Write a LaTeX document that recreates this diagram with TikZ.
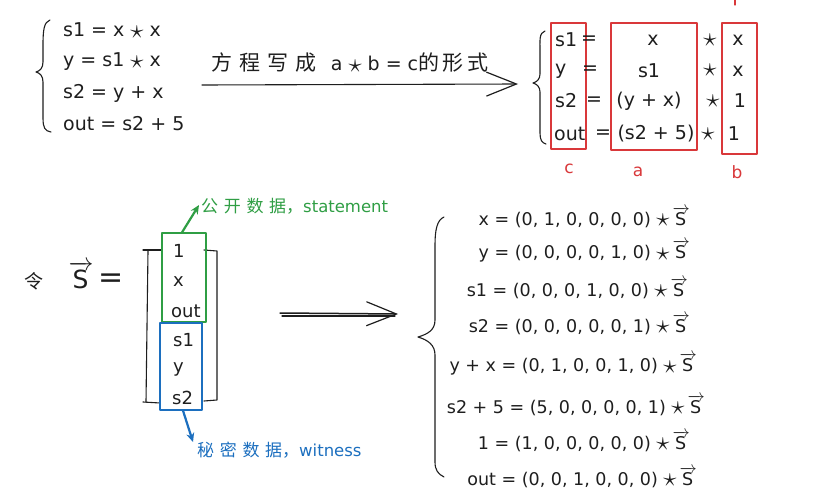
\documentclass[tikz,border=0pt]{standalone}
\usepackage{fontspec}
\setmainfont{DejaVu Sans}
\newfontfamily\cjk{Noto Sans CJK SC}
\usetikzlibrary{arrows.meta}
\definecolor{exred}{HTML}{D9383A}
\definecolor{exgreen}{HTML}{2F9E44}
\definecolor{exblue}{HTML}{1C6FBF}
\definecolor{ink}{HTML}{1E1E1E}
\newcommand\vecS{\ensuremath{\overrightarrow{\mbox{S\kern1pt}}}}
\newcommand\mystar{\ensuremath{\vcenter{\hbox{\scalebox{1.55}{$\star$}}}}}
\begin{document}
\begin{tikzpicture}[x=1pt,y=-1pt,line cap=round,line join=round,
  txt/.style={font=\fontsize{19}{22}\selectfont,inner sep=0pt,text=ink},
  rtxt/.style={font=\fontsize{17.5}{20}\selectfont,inner sep=0pt,text=ink},
  hand/.style={draw=ink,line width=1.1pt},
  redbox/.style={draw=exred,line width=1.2pt,inner sep=0pt},
  redlbl/.style={font=\fontsize{17}{19}\selectfont,text=exred,inner sep=0pt},
  gbox/.style={draw=exgreen,line width=1.2pt,inner sep=0pt},
  bbox/.style={draw=exblue,line width=1.2pt,inner sep=0pt},
  bigarrow/.style={hand,-{Straight Barb[length=30pt,width=24pt,line width=1.2pt]}}]
\useasboundingbox[fill=white] (0,0) rectangle (835,495);

% ---------- top-left system ----------
\draw[hand] (50,20) .. controls (44,22) and (43,30) .. (43,45)
  -- (43,62) .. controls (43,68) and (40,71) .. (36,72)
  .. controls (40,73) and (43,76) .. (43,82) -- (43,118)
  .. controls (43,128) and (45,131) .. (51,132);
\node[txt,anchor=west] (e1) at (63,31) {s1 = x \mystar{} x};
\node[txt,anchor=west] (e2) at (63,62) {y = s1 \mystar{} x};
\node[txt,anchor=west] (e3) at (63,93) {s2 = y + x};
\node[txt,anchor=west] (e4) at (63,124) {out = s2 + 5};

% ---------- top arrow ----------
\coordinate (a1s) at (202,85);
\coordinate (a1e) at (518,84);
\draw[bigarrow] (a1s) -- (a1e);
\node[inner sep=0pt,text=ink] (lab1) at (350,63)
  {{\cjk\fontsize{21}{23}\selectfont 方\,\,程\,\,写\,\,成}\hspace{14pt}{\fontsize{19}{21}\selectfont a \mystar{} b = c}{\cjk\fontsize{21}{23}\selectfont 的\,形\,式}};

% ---------- top-right system ----------
\draw[hand] (545,31) .. controls (539,33) and (540,40) .. (540,52)
  -- (540,74) .. controls (540,79) and (537,82) .. (533,83)
  .. controls (537,84) and (540,87) .. (540,92) -- (540,133)
  .. controls (540,140) and (542,143) .. (546,144);
\node[redbox,minimum width=35pt,minimum height=126pt] (cbox) at (568.5,86) {};
\node[redbox,minimum width=86pt,minimum height=127pt] (abox) at (654,86.5) {};
\node[redbox,minimum width=35pt,minimum height=131pt] (bbx) at (739.5,88.5) {};
\draw[exred,line width=1.2pt] (735,0) -- (735,5);

\node[txt,anchor=west] (c1) at (555,40) {s1};
\node[txt,anchor=west] (c2) at (555,71) {y};
\node[txt,anchor=west] (c3) at (555,101) {s2};
\node[txt,anchor=west] (c4) at (554,134) {out};
\node[txt] (q1) at (589,40) {=};
\node[txt] (q2) at (590,70) {=};
\node[txt] (q3) at (594,101) {=};
\node[txt] (q4) at (603,134) {=};
\node[txt] (a1) at (653,40) {x};
\node[txt] (a2) at (649,71) {s1};
\node[txt] (a3) at (649,101) {(y + x)};
\node[txt] (a4) at (656,134) {(s2 + 5)};
\node[txt] (m1) at (710,40) {\mystar};
\node[txt] (m2) at (710,70) {\mystar};
\node[txt] (m3) at (713,101) {\mystar};
\node[txt] (m4) at (708,134) {\mystar};
\node[txt] (b1) at (738,40) {x};
\node[txt] (b2) at (738,71) {x};
\node[txt] (b3) at (740,101) {1};
\node[txt] (b4) at (734,134) {1};
\node[redlbl] (lc) at (569,169) {c};
\node[redlbl] (la) at (638,172) {a};
\node[redlbl] (lb) at (737,172) {b};

% ---------- vector S ----------
\node[inner sep=0pt,text=ink,font=\cjk\fontsize{19}{21}\selectfont] (ling) at (34,281) {令};
\node[inner sep=0pt,text=ink,font=\fontsize{25}{27}\selectfont] (vs) at (81,275) {\vecS};
\node[inner sep=0pt,text=ink,font=\fontsize{30}{30}\selectfont] (eqs) at (111,281) {=};

\draw[hand] (143,250) -- (161,250);
\draw[hand] (148,251) -- (146,402);
\draw[hand] (143,402) -- (160,403);
\draw[hand] (204,250) -- (217,251) -- (217,400) -- (204,401);

\node[gbox,minimum width=44pt,minimum height=89pt] (gb) at (184,277.5) {};
\node[bbox,minimum width=42pt,minimum height=87pt] (bb) at (181,366.5) {};
\node[txt,anchor=west,font=\fontsize{18}{20}\selectfont] (v1) at (173,251) {1};
\node[txt,anchor=west,font=\fontsize{18}{20}\selectfont] (v2) at (173,282) {x};
\node[txt,anchor=west,font=\fontsize{18}{20}\selectfont] (v3) at (171,311) {out};
\node[txt,anchor=west,font=\fontsize{18}{20}\selectfont] (v4) at (173,340) {s1};
\node[txt,anchor=west,font=\fontsize{18}{20}\selectfont] (v5) at (173,369) {y};
\node[txt,anchor=west,font=\fontsize{18}{20}\selectfont] (v6) at (172,398) {s2};

\node[inner sep=0pt,anchor=west,text=exgreen] (glab) at (201,206)
  {{\cjk\fontsize{17}{19}\selectfont 公\,\,开\,\,数\,\,据，}{\fontsize{16.5}{19}\selectfont statement}};
\node[inner sep=0pt,anchor=west,text=exblue] (blab) at (197,450)
  {{\cjk\fontsize{17}{19}\selectfont 秘\,\,密\,\,数\,\,据，}{\fontsize{16.5}{19}\selectfont witness}};
\draw[exgreen,line width=2.2pt,-{Stealth[length=9pt,width=8pt]}] ([xshift=-2pt]gb.north) -- ([xshift=-2pt,yshift=1pt]glab.west);
\draw[exblue,line width=2.2pt,-{Stealth[length=9pt,width=8pt]}] ([xshift=2pt]bb.south) -- ([xshift=-4pt,yshift=8pt]blab.west);

% ---------- middle arrow ----------
\coordinate (a2s) at (280,313);
\coordinate (a2e) at (398,314);
\draw[bigarrow,line width=1.5pt] (a2s) -- (a2e);
\draw[hand] (282,316) -- (395,316);

% ---------- big brace ----------
\draw[hand] (444,217) .. controls (437,220) and (435,230) .. (435,245)
  -- (435,320) .. controls (435,330) and (428,334) .. (418,337)
  .. controls (428,340) and (435,345) .. (435,355) -- (435,462)
  .. controls (435,470) and (438,474) .. (444,477);

\node[rtxt,anchor=east] (r1) at (690,217) {x = (0, 1, 0, 0, 0, 0) \mystar\,\vecS};
\node[rtxt,anchor=east] (r2) at (690,251) {y = (0, 0, 0, 0, 1, 0) \mystar\,\vecS};
\node[rtxt,anchor=east] (r3) at (688,288) {s1 = (0, 0, 0, 1, 0, 0) \mystar\,\vecS};
\node[rtxt,anchor=east] (r4) at (690,324) {s2 = (0, 0, 0, 0, 0, 1) \mystar\,\vecS};
\node[rtxt,anchor=east] (r5) at (697,364) {y + x = (0, 1, 0, 0, 1, 0) \mystar\,\vecS};
\node[rtxt,anchor=east] (r6) at (705,405) {s2 + 5 = (5, 0, 0, 0, 0, 1) \mystar\,\vecS};
\node[rtxt,anchor=east] (r7) at (690,441) {1 = (1, 0, 0, 0, 0, 0) \mystar\,\vecS};
\node[rtxt,anchor=east] (r8) at (697,477) {out = (0, 0, 1, 0, 0, 0) \mystar\,\vecS};
\end{tikzpicture}
\end{document}
